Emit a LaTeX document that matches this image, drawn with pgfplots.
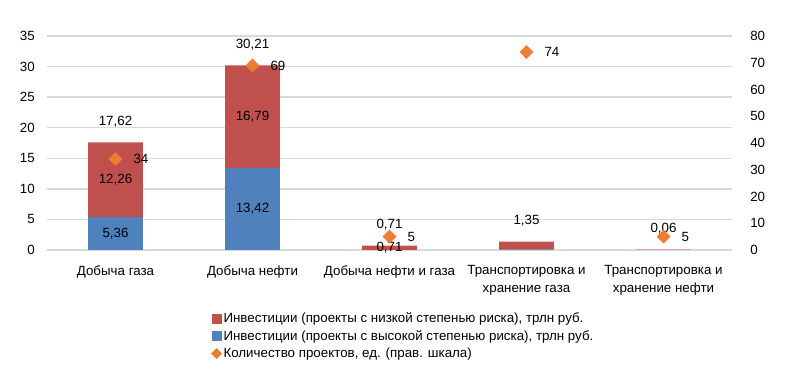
\documentclass[border=0pt]{standalone}
\usepackage{fontspec}
\setmainfont{Liberation Sans}
\usepackage{pgfplots}
\usepackage{pgfplotstable}
\pgfplotsset{compat=1.18}
\definecolor{cred}{HTML}{C0504D}
\definecolor{cblue}{HTML}{4F81BD}
\definecolor{corange}{HTML}{ED7D31}
\definecolor{cgrid}{HTML}{D9D9D9}

\pgfplotstableread{
x blue red
0 5.36 12.26
1 13.42 16.79
2 0 0.71
3 0.05 1.30
4 0 0.06
}\bars

\pgfplotstableread{
x y label
0 2.68 {5,36}
0 11.49 {12,26}
1 6.71 {13,42}
1 21.815 {16,79}
2 0.355 {0,71}
}\seglabels

\pgfplotstableread{
x y label
0 17.62 {17,62}
1 30.21 {30,21}
2 0.71 {0,71}
3 1.35 {1,35}
4 0.06 {0,06}
}\totlabels

\pgfplotstableread{
x y
0 34
1 69
2 5
3 74
4 5
}\projects

\pgfplotsset{
  base/.style={
    width=513.75pt, height=160.5pt, scale only axis,
    xmin=-0.5, xmax=4.5, ymin=0,
    tick style={draw=none},
    axis line style={draw=none},
    clip=false,
    every tick label/.append style={font=\fontsize{10}{13.5}\selectfont, text=black},
    /pgf/number format/assume math mode=true,
  },
}

\begin{document}
\begin{tikzpicture}
\path[use as bounding box] (-35.25pt,-103.5pt) rectangle (555pt,187.5pt);

\begin{axis}[base,
  ymax=35, ytick={0,5,...,35},
  ybar stacked, bar width=0.4,
  ymajorgrids, grid style={cgrid, line width=1.1pt},
  xtick={0,1,2,3,4},
  xticklabels={{Добыча газа},{Добыча нефти},{Добыча нефти и газа},{Транспортировка и\\хранение газа},{Транспортировка и\\хранение нефти}},
  xticklabel style={align=center, anchor=north, inner sep=0pt, yshift=-11.5pt},
  yticklabel style={anchor=east, inner sep=0pt, xshift=-9pt},
  legend style={at={(0.2336,-0.272)}, anchor=north west, draw=none, fill=none,
    font=\fontsize{10}{12}\selectfont, row sep=1.8pt,
    nodes={inner sep=1.2pt}},
  legend cell align=left,
]
\addplot[fill=cblue, draw=none, forget plot] table[x=x, y=blue] {\bars};
\addplot[fill=cred, draw=none, forget plot] table[x=x, y=red] {\bars};
\addlegendimage{legend image code/.code={\fill[cred] (0pt,-3.4pt) rectangle (6.8pt,3.4pt);}}
\addlegendentry{Инвестиции (проекты с низкой степенью риска), трлн руб.}
\addlegendimage{legend image code/.code={\fill[cblue] (0pt,-3.4pt) rectangle (6.8pt,3.4pt);}}
\addlegendentry{Инвестиции (проекты с высокой степенью риска), трлн руб.}
\addlegendimage{legend image code/.code={\fill[corange] (3.4pt,-3.8pt) -- (7.2pt,0pt) -- (3.4pt,3.8pt) -- (-0.4pt,0pt) -- cycle;}}
\addlegendentry{Количество проектов, ед. (прав. шкала)}
\end{axis}

\begin{axis}[base, hide axis, ymax=35]
\addplot[draw=none, mark=none, nodes near coords, point meta=explicit symbolic,
  every node near coord/.append style={anchor=center, font=\fontsize{10}{12}\selectfont, text=black}]
  table[x=x, y=y, meta=label] {\seglabels};
\addplot[draw=none, mark=none, nodes near coords, point meta=explicit symbolic,
  every node near coord/.append style={anchor=center, yshift=15.75pt, font=\fontsize{10}{12}\selectfont, text=black}]
  table[x=x, y=y, meta=label] {\totlabels};
\end{axis}

\begin{axis}[base,
  ymax=80, ytick={0,10,...,80},
  axis y line*=right, axis x line=none,
  yticklabel style={anchor=west, inner sep=0pt, xshift=13.5pt},
]
\addplot[only marks, mark=square*, mark size=3.45pt,
  mark options={rotate=45, fill=corange, draw=corange},
  nodes near coords, point meta=y,
  every node near coord/.append style={anchor=west, xshift=10pt, yshift=0pt, font=\fontsize{10}{12}\selectfont, text=black}]
  table[x=x, y=y] {\projects};
\end{axis}
\end{tikzpicture}
\end{document}
